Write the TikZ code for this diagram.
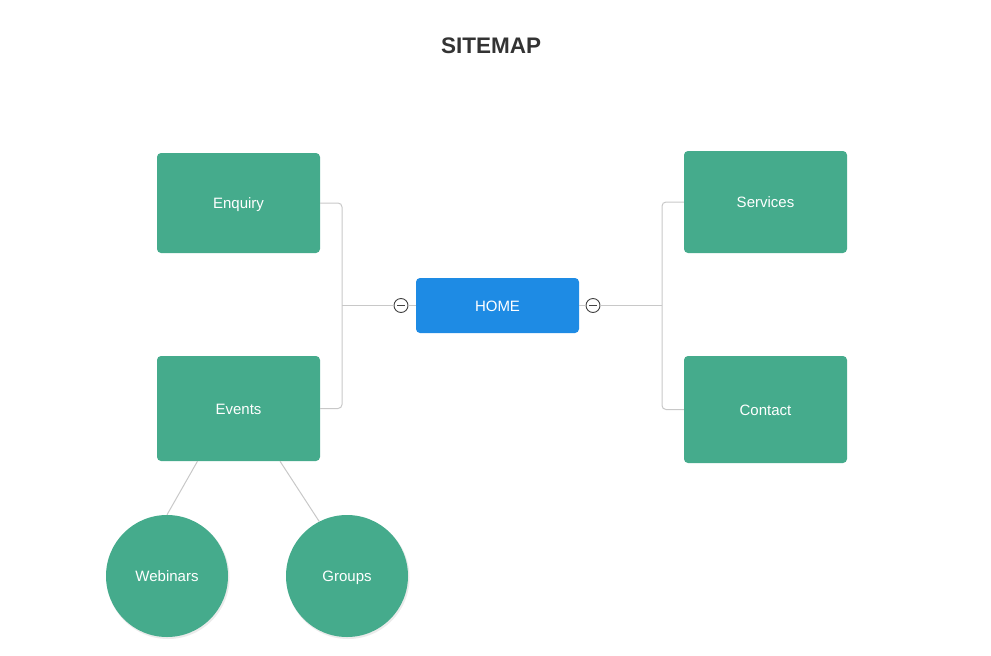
\documentclass[tikz,border=0pt]{standalone}
\usepackage{fontspec}
\setmainfont{Liberation Sans}
\definecolor{leaf}{HTML}{45AB8C}
\definecolor{homeblue}{HTML}{1E8BE4}
\definecolor{linkgray}{HTML}{C8C8C8}
\definecolor{titlegray}{HTML}{333333}
\definecolor{markgray}{HTML}{444444}
\begin{document}
\begin{tikzpicture}[x=1pt,y=-1pt,
  lbl/.style={text=white, font=\fontsize{15}{18}\selectfont, text height=11.7pt, text depth=0pt, inner sep=0pt},
  box/.style={lbl, rectangle, fill=leaf, rounded corners=4pt, minimum width=163pt},
  homebox/.style={lbl, rectangle, fill=homeblue, rounded corners=4pt, minimum width=163pt, minimum height=55pt},
  leafcircle/.style={lbl, circle, fill=leaf, minimum size=122pt},
  link/.style={draw=linkgray, line width=1pt},
  marker/.style={circle, draw=markgray, fill=white, line width=0.9pt, minimum size=14pt, inner sep=0pt}
]
\useasboundingbox (0,0) rectangle (991,656);
\node[font=\bfseries\fontsize{22.5}{26}\selectfont, text=titlegray, text height=16pt, text depth=0pt, inner sep=0pt] (title) at (491,45.5) {SITEMAP};

\node[box, minimum height=100pt] (enquiry) at (238.5,203) {Enquiry};
\node[box, minimum height=105pt] (events) at (238.5,408.5) {Events};
\node[homebox] (home) at (497.5,305.5) {HOME};
\node[box, minimum height=102pt] (services) at (765.5,202) {Services};
\node[box, minimum height=107pt] (contact) at (765.5,409.5) {Contact};

\fill[black!8] (168,577.5) circle (61.5pt);
\fill[black!8] (348,577.5) circle (61.5pt);
\node[leafcircle] (webinars) at (167,576) {Webinars};
\node[leafcircle] (groups) at (347,576) {Groups};

\node[marker] (mleft) at (401,305.5) {};
\node[marker] (mright) at (593,305.5) {};
\draw[markgray, line width=1.7pt] ([xshift=-4pt]mleft.center) -- ([xshift=4pt]mleft.center);
\draw[markgray, line width=1.7pt] ([xshift=-4pt]mright.center) -- ([xshift=4pt]mright.center);

% left links
\coordinate (lj) at (342,305.5);
\draw[link] (home.west) -- (mleft.east);
\draw[link] (mleft.west) -- (lj);
\draw[link, rounded corners=4pt] (enquiry.east) -| (lj) |- (events.east);
% right links
\coordinate (rj) at (662,305.5);
\draw[link] (home.east) -- (mright.west);
\draw[link] (mright.east) -- (rj);
\draw[link, rounded corners=4pt] (services.west) -| (rj) |- (contact.west);

% events children
\draw[link] ([xshift=-41pt]events.south) -- (webinars.90);
\draw[link] ([xshift=41.5pt]events.south) -- (groups.117);
\end{tikzpicture}
\end{document}
